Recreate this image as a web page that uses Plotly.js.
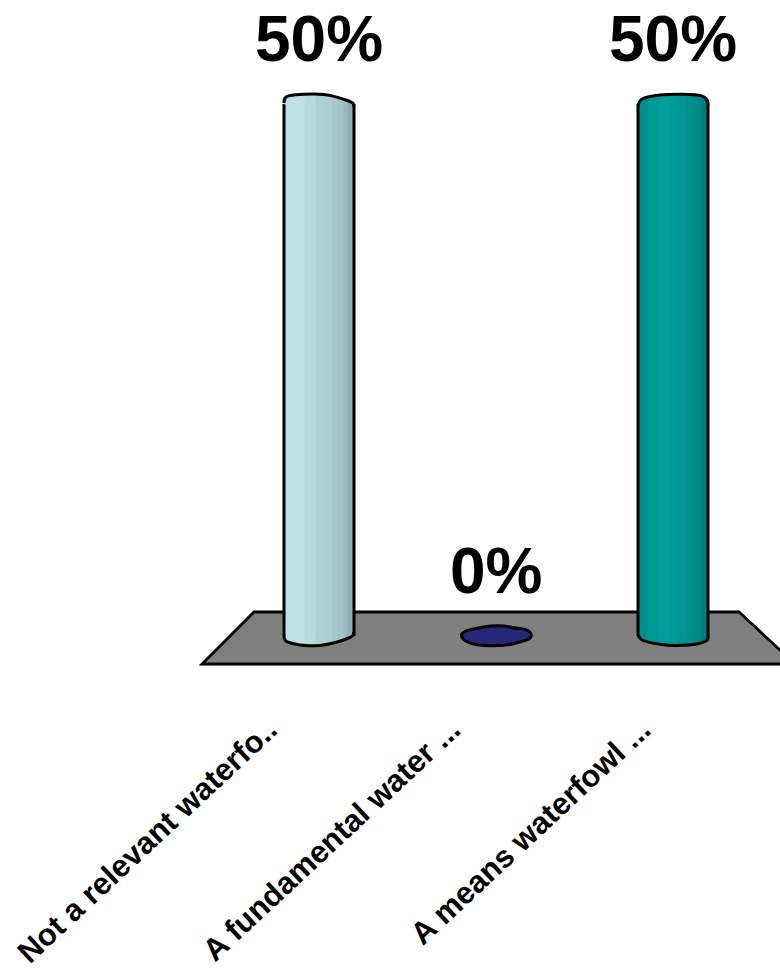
<!DOCTYPE html>
<html><head><meta charset="utf-8">
<script src="https://cdn.plot.ly/plotly-3.0.1.min.js"></script>
<style>html,body{margin:0;padding:0;background:#fff}#c{width:780px;height:971px}</style>
</head><body><div id="c"></div>
<script>
const categories = ["Not a relevant waterfo..", "A fundamental water ...", "A means waterfowl ..."];
const values = [50, 0, 50];
const valueLabels = ["50%", "0%", "50%"];
const barColors = ["#bce2e5", "#26267a", "#009a96"];

// layout helpers (pixel frame of the picture)
const W = 780, H = 971, plotBottom = 672;
const cx0 = 319, step = 177, y0 = 636, y50 = 104;
const pxPerUnit = (y0 - y50) / 50;
const xRange = [(0 - cx0) / step, (W - cx0) / step];
const yRange = [(y0 - plotBottom) / pxPerUnit, y0 / pxPerUnit];
const X = p => (p - cx0) / step, Y = p => (y0 - p) / pxPerUnit;

// cylinder look
const shadeEdges = [-35,-25,-14,-3,5,13,19,25,29,35];
const shades = [
  [1,1,.97,.93,.92,.89,.86,.82,.76],
  [1,1,1,1,1,1,1,1,1],
  [.93,1,1.03,1,.97,.94,.9,.87,.82]
];
const topProfiles = [
  [[-35,1],[-35,5.5],[-31,8.5],[-16,10],[6,10],[18,6.7],[34,1.7],[35,-2]],
  null,
  [[-35,-1],[-33,4],[-29,6],[-21,8],[-5,10],[24,9.7],[32,7],[35,3],[35,-1]]
];
const botProfiles = [
  [[-35,1],[-35,-4],[-30,-6.7],[-16,-9.7],[6,-9.7],[34,-1.3],[35,4]],
  null,
  [[-35,1],[-33,-3],[-29,-5],[-20,-7.3],[-3,-9.7],[20,-9],[30,-6.5],[35,-4],[35,1]]
];
const blob = [[-36,0.3],[-31,5.3],[-19,7.7],[-6,10.3],[9,10.3],[19,7.7],[31,6.7],[36,1.7],[34,-3.3],[24,-5.7],[11,-9.7],[-13,-9.7],[-29,-6.7]];

function tint(hex, f){
  const n = parseInt(hex.slice(1),16);
  const c = [n>>16, (n>>8)&255, n&255].map(v=>Math.max(0,Math.min(255,Math.round(v*f))));
  return `rgb(${c[0]},${c[1]},${c[2]})`;
}
function interp(prof, x){
  for(let i=0;i<prof.length-1;i++){
    const [a,ya]=prof[i],[b,yb]=prof[i+1];
    if(x>=a && x<=b && b>a) return ya+(yb-ya)*(x-a)/(b-a);
  }
  return 0;
}
function smoothOpen(p){
  let d='M'+p[0][0]+','+p[0][1];
  for(let i=1;i<p.length-1;i++){
    const mx=(p[i][0]+p[i+1][0])/2,my=(p[i][1]+p[i+1][1])/2;
    d+='Q'+p[i][0]+','+p[i][1]+' '+mx+','+my;
  }
  return d+'L'+p[p.length-1][0]+','+p[p.length-1][1];
}
function smoothClosed(p){
  const n=p.length,m=(a,b)=>[(a[0]+b[0])/2,(a[1]+b[1])/2];
  const s=m(p[n-1],p[0]);
  let d='M'+s[0]+','+s[1];
  for(let i=0;i<n;i++){
    const e=m(p[i],p[(i+1)%n]);
    d+='Q'+p[i][0]+','+p[i][1]+' '+e[0]+','+e[1];
  }
  return d+'Z';
}
const idx = categories.map((_,i)=>i);
const traces = [];
const shapes = [];

// floor
const floorPts = [[254,612],[739,612],[795,664],[202,664]];
shapes.push({type:'path', layer:'below', xref:'x', yref:'y',
  path:'M'+floorPts.map(p=>X(p[0])+','+Y(p[1])).join('L')+'Z',
  fillcolor:'#808080', line:{color:'#000',width:2.8}});

// cylinder bodies: one bar trace per shading strip
for(let s=0;s<shadeEdges.length-1;s++){
  const a=shadeEdges[s], b=shadeEdges[s+1];
  traces.push({type:'bar', x:idx, y:values, hoverinfo:'skip', showlegend:false,
    width:idx.map(()=>(b-a+0.6)/step), offset:idx.map(()=>(a-0.3)/step),
    marker:{color:idx.map(i=>tint(barColors[i],shades[i][s])), line:{width:0}}});
}
// side outlines
[-35,35].forEach(e=>{
  traces.push({type:'bar', x:idx, y:values, hoverinfo:'skip', showlegend:false,
    width:idx.map(()=>3/step), offset:idx.map(()=>(e-1.5)/step),
    marker:{color:'#000', line:{width:0}}});
});

// caps
idx.forEach(i=>{
  const anchor = {xref:'x',yref:'y',xsizemode:'pixel',ysizemode:'pixel',xanchor:i,layer:'above'};
  if(values[i]===0){
    shapes.push(Object.assign({},anchor,{type:'path',yanchor:0,
      path:smoothClosed(blob),
      fillcolor:barColors[i],line:{color:'#000',width:3}}));
    return;
  }
  [[topProfiles[i],values[i]],[botProfiles[i],0]].forEach(([prof,ya])=>{
    for(let s=0;s<shadeEdges.length-1;s++){
      const a=shadeEdges[s], b=shadeEdges[s+1], col=tint(barColors[i],shades[i][s]);
      const pts=[a];
      prof.forEach(p=>{if(p[0]>a&&p[0]<b)pts.push(p[0]);});
      pts.push(b);
      const path='M'+a+',0L'+pts.map(x=>x+','+interp(prof,x)).join('L')+'L'+b+',0Z';
      shapes.push(Object.assign({},anchor,{type:'path',yanchor:ya,path,fillcolor:col,line:{color:col,width:0.6}}));
    }
    shapes.push(Object.assign({},anchor,{type:'path',yanchor:ya,
      path:smoothOpen(prof),
      line:{color:'#000',width:3}}));
  });
});

const annotations = idx.map(i=>({x:i,y:values[i],xref:'x',yref:'y',text:valueLabels[i],
  showarrow:false,xanchor:'center',yanchor:'middle',yshift:65,
  font:{family:'Liberation Sans, Arial, sans-serif',size:64,weight:700,color:'#000'}}));

const labelShift = [-0.285, -0.25, -0.175];
const layout = {
  width:W,height:H,margin:{l:0,r:0,t:0,b:H-plotBottom,pad:0},
  paper_bgcolor:'#fff',plot_bgcolor:'rgba(0,0,0,0)',showlegend:false,barmode:'overlay',
  xaxis:{type:'linear',range:xRange,showgrid:false,zeroline:false,showline:false,
    tickmode:'array',tickvals:idx.map(i=>i+labelShift[i]),ticktext:categories,
    tickangle:-43,ticks:'outside',ticklen:26,tickcolor:'rgba(0,0,0,0)',
    tickfont:{family:'Liberation Sans, Arial, sans-serif',size:31,weight:700,color:'#000'}},
  yaxis:{range:yRange,showgrid:false,zeroline:false,showline:false,showticklabels:false,ticks:''},
  shapes,annotations
};
Plotly.newPlot('c',traces,layout,{displayModeBar:false,staticPlot:true});
</script></body></html>
